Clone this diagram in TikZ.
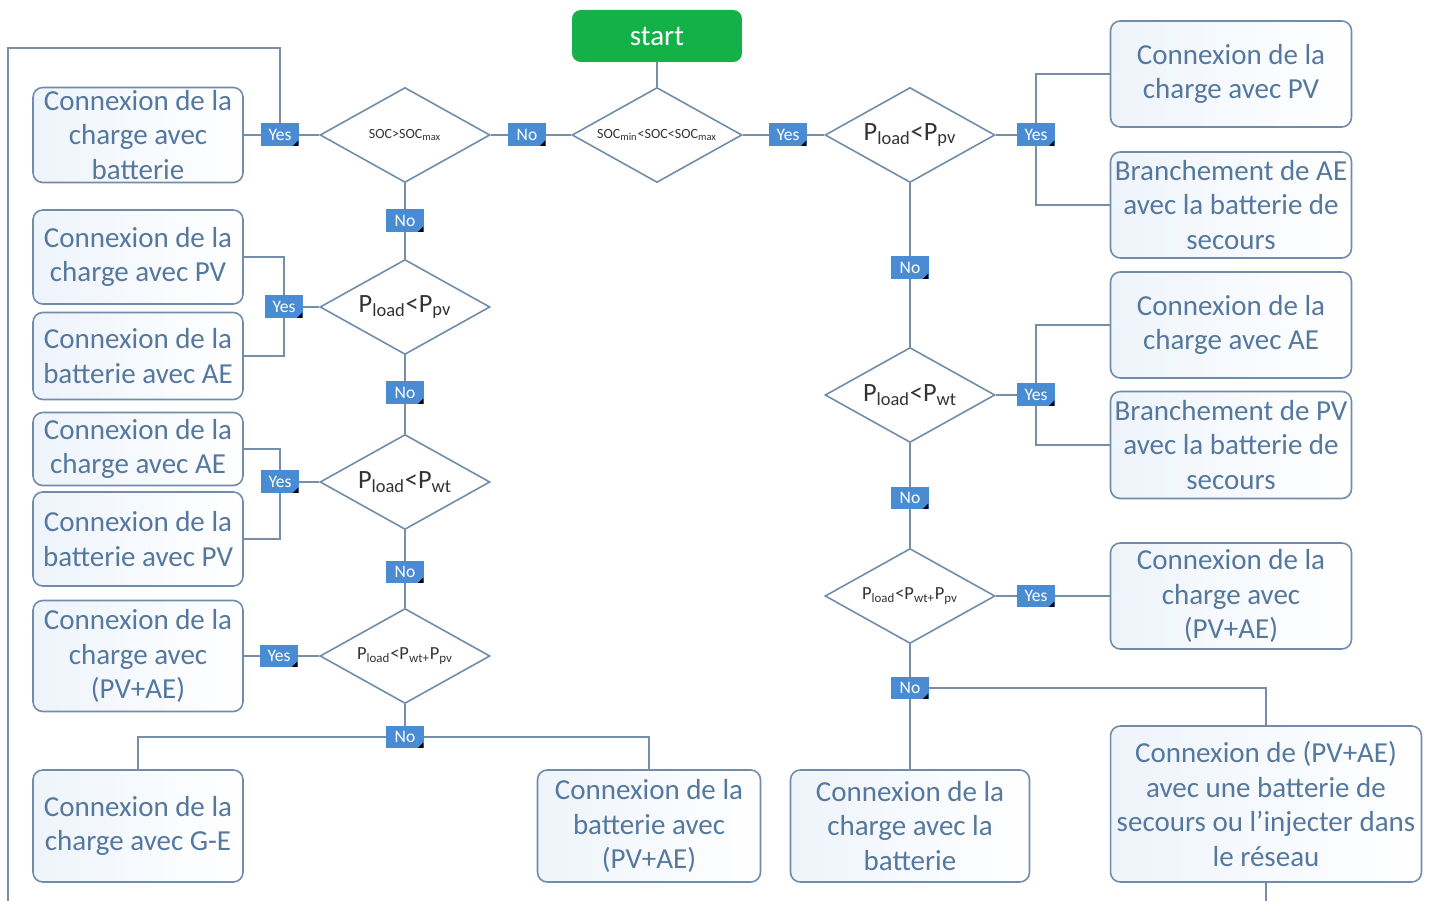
\documentclass[tikz,border=0pt]{standalone}
\usepackage{fontspec}
\setmainfont{Carlito}
\usetikzlibrary{shapes.geometric,backgrounds}
\definecolor{txtblue}{RGB}{85,120,158}
\definecolor{bordblue}{RGB}{112,140,170}
\definecolor{linec}{RGB}{118,142,168}
\definecolor{lblblue}{RGB}{74,140,212}
\definecolor{startgreen}{RGB}{20,176,72}
\definecolor{boxfill}{RGB}{238,244,251}
\begin{document}
\begin{tikzpicture}[x=0.02cm,y=-0.02cm,
 actbox/.style={draw=bordblue, line width=0.9pt, rounded corners=5.5pt, left color=boxfill, right color=white, text=txtblue, font=\fontsize{16.5}{19.8}\selectfont, align=center, inner sep=0pt},
 dec/.style={diamond, aspect=1.8, draw=bordblue, line width=0.9pt, fill=white, minimum width=3.4cm, minimum height=1.9cm, inner sep=0pt, text=black!80},
 bigtxt/.style={font=\fontsize{15}{18}\selectfont},
 smalltxt/.style={font=\fontsize{8}{9}\selectfont},
 midtxt/.style={font=\fontsize{10.5}{12}\selectfont},
 lbl/.style={fill=lblblue, text=white, font=\fontsize{10}{12}\selectfont, minimum width=0.76cm, minimum height=0.46cm, inner sep=0pt,
   path picture={\fill[black] ([shift={(-0.3pt,0.3pt)}]path picture bounding box.south east) -- ++(-3.2pt,0pt) -- ++(3.2pt,3.2pt) -- cycle;}},
 conn/.style={draw=linec, line width=0.9pt}
]
\useasboundingbox (0,0) rectangle (1433,901);

% start
\node[fill=startgreen, rounded corners=5pt, text=white, minimum width=3.4cm, minimum height=1.04cm, inner sep=0pt, font=\fontsize{16.5}{19.8}\selectfont] (start) at (657,36) {start};

% decisions
\node[dec, smalltxt] (d0) at (405,135) {SOC>SOC\textsubscript{max}};
\node[dec, smalltxt] (d1) at (657,135) {SOC\textsubscript{min}<SOC<SOC\textsubscript{max}};
\node[dec, bigtxt] (d2) at (910,135) {P\textsubscript{load}<P\textsubscript{pv}};
\node[dec, bigtxt] (d3) at (405,307) {P\textsubscript{load}<P\textsubscript{pv}};
\node[dec, bigtxt] (d4) at (405,482) {P\textsubscript{load}<P\textsubscript{wt}};
\node[dec, midtxt] (d5) at (405,656) {P\textsubscript{load}<P\textsubscript{wt+}P\textsubscript{pv}};
\node[dec, bigtxt] (d6) at (910,395) {P\textsubscript{load}<P\textsubscript{wt}};
\node[dec, midtxt] (d7) at (910,596) {P\textsubscript{load}<P\textsubscript{wt+}P\textsubscript{pv}};

% left boxes
\node[actbox, minimum width=4.2cm, minimum height=1.9cm] (lb0) at (138,135) {Connexion de la\\charge avec\\batterie};
\node[actbox, minimum width=4.2cm, minimum height=1.88cm] (lb1) at (138,257) {Connexion de la\\charge avec PV};
\node[actbox, minimum width=4.2cm, minimum height=1.74cm] (lb2) at (138,356) {Connexion de la\\batterie avec AE};
\node[actbox, minimum width=4.2cm, minimum height=1.46cm] (lb3) at (138,449) {Connexion de la\\charge avec AE};
\node[actbox, minimum width=4.2cm, minimum height=1.88cm] (lb4) at (138,539) {Connexion de la\\batterie avec PV};
\node[actbox, minimum width=4.2cm, minimum height=2.22cm] (lb5) at (138,656) {Connexion de la\\charge avec\\(PV+AE)};
\node[actbox, minimum width=4.2cm, minimum height=2.24cm] (lb6) at (138,826) {Connexion de la\\charge avec G-E};
\node[actbox, minimum width=4.46cm, minimum height=2.24cm] (lb7) at (649,826) {Connexion de la\\batterie avec\\(PV+AE)};

% right boxes
\node[actbox, minimum width=4.82cm, minimum height=2.12cm] (rb1) at (1231,74) {Connexion de la\\charge avec PV};
\node[actbox, minimum width=4.82cm, minimum height=2.12cm] (rb2) at (1231,205) {Branchement de AE\\avec la batterie de\\secours};
\node[actbox, minimum width=4.82cm, minimum height=2.12cm] (rb3) at (1231,325) {Connexion de la\\charge avec AE};
\node[actbox, minimum width=4.82cm, minimum height=2.14cm] (rb4) at (1231,445) {Branchement de PV\\avec la batterie de\\secours};
\node[actbox, minimum width=4.82cm, minimum height=2.12cm] (rb5) at (1231,596) {Connexion de la\\charge avec\\(PV+AE)};
\node[actbox, minimum width=4.78cm, minimum height=2.24cm] (rb6) at (910,826) {Connexion de la\\charge avec la\\batterie};
\node[actbox, minimum width=6.22cm, minimum height=3.12cm] (rb7) at (1266,804) {Connexion de (PV+AE)\\avec une batterie de\\secours ou l’injecter dans\\le réseau};

% labels
\node[lbl] (no0) at (527,135) {No};
\node[lbl] (ye1) at (788,135) {Yes};
\node[lbl] (ye0) at (280,135) {Yes};
\node[lbl] (ye2) at (1036,135) {Yes};
\node[lbl] (no1) at (405,221) {No};
\node[lbl] (ye3) at (284,307) {Yes};
\node[lbl] (no2) at (405,393) {No};
\node[lbl] (ye4) at (280,482) {Yes};
\node[lbl] (no3) at (405,572) {No};
\node[lbl] (ye5) at (279,656) {Yes};
\node[lbl] (no4) at (405,737) {No};
\node[lbl] (no5) at (910,268) {No};
\node[lbl] (ye6) at (1036,395) {Yes};
\node[lbl] (no6) at (910,498) {No};
\node[lbl] (ye7) at (1036,596) {Yes};
\node[lbl] (no7) at (910,688) {No};

\coordinate (loopB) at (8,901);
\coordinate (loopT) at (8,48);
\coordinate (rbB) at (1266,901);

\begin{scope}[on background layer]
\fill[white] (0,0) rectangle (1433,901);
\path[conn] (start.south) -- (d1.north);
\path[conn] (d1.west) -- (no0.center) -- (d0.east);
\path[conn] (d1.east) -- (ye1.center) -- (d2.west);
\path[conn] (d0.west) -- (ye0.center) -- (lb0.east);
\path[conn] (d2.east) -- (ye2.center);
\path[conn] (rb1.west) -| (ye2.center);
\path[conn] (rb2.west) -| (ye2.center);
\path[conn] (d0.south) -- (no1.center) -- (d3.north);
\path[conn] (d3.west) -- (ye3.center);
\path[conn] (lb1.east) -| (ye3.center);
\path[conn] (lb2.east) -| (ye3.center);
\path[conn] (d3.south) -- (no2.center) -- (d4.north);
\path[conn] (d4.west) -- (ye4.center);
\path[conn] (lb3.east) -| (ye4.center);
\path[conn] (lb4.east) -| (ye4.center);
\path[conn] (d4.south) -- (no3.center) -- (d5.north);
\path[conn] (d5.west) -- (ye5.center) -- (lb5.east);
\path[conn] (d5.south) -- (no4.center);
\path[conn] (lb6.north) |- (no4.center);
\path[conn] (lb7.north) |- (no4.center);
\path[conn] (d2.south) -- (no5.center) -- (d6.north);
\path[conn] (d6.east) -- (ye6.center);
\path[conn] (rb3.west) -| (ye6.center);
\path[conn] (rb4.west) -| (ye6.center);
\path[conn] (d6.south) -- (no6.center) -- (d7.north);
\path[conn] (d7.east) -- (ye7.center) -- (rb5.west);
\path[conn] (d7.south) -- (no7.center) -- (rb6.north);
\path[conn] (no7.center) -| (rb7.north);
\path[conn] (rb7.south) -- (rbB);
\path[conn] (loopB) -- (loopT) -| (ye0.center);
\end{scope}
\end{tikzpicture}
\end{document}
